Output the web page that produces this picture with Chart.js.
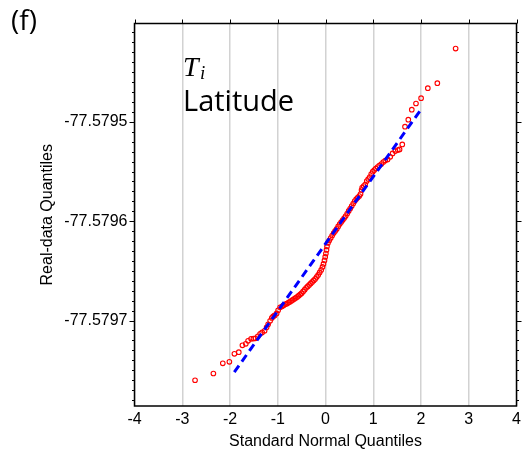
<!DOCTYPE html>
<html>
<head>
<meta charset="utf-8">
<script src="https://cdn.jsdelivr.net/npm/chart.js@4.4.1/dist/chart.umd.min.js"></script>
<style>
  html, body { margin: 0; padding: 0; background: #fff; }
  #wrap { width: 528px; height: 451px; }
</style>
</head>
<body>
<div id="wrap"><canvas id="chart" width="528" height="451"></canvas></div>
<script>
// Q-Q plot: sample quantiles of latitude against standard normal quantiles

// theoretical (standard normal) quantiles
const normQ = [
  -2.732, -2.348, -2.151, -2.013, -1.908, -1.816, -1.740, -1.669, -1.621, -1.558,
  -1.509, -1.468, -1.417, -1.369, -1.327, -1.275, -1.233, -1.201, -1.159, -1.124,
  -1.096, -1.065, -1.023, -0.992, -0.950, -0.908, -0.876, -0.845, -0.813, -0.782,
  -0.751, -0.719, -0.688, -0.656, -0.625, -0.593, -0.562, -0.530, -0.499, -0.468,
  -0.436, -0.405, -0.373, -0.342, -0.310, -0.279, -0.247, -0.216, -0.184, -0.153,
  -0.122, -0.090, -0.063, -0.042, -0.021, -0.006, 0.008, 0.021, 0.031, 0.052,
  0.078, 0.109, 0.140, 0.172, 0.203, 0.235, 0.266, 0.298, 0.329, 0.361,
  0.392, 0.423, 0.455, 0.486, 0.518, 0.549, 0.581, 0.612, 0.644, 0.675,
  0.707, 0.734, 0.755, 0.769, 0.801, 0.832, 0.864, 0.895, 0.927, 0.958,
  0.990, 1.021, 1.052, 1.090, 1.126, 1.168, 1.210, 1.252, 1.300, 1.356,
  1.405, 1.461, 1.514, 1.551, 1.608, 1.665, 1.734, 1.807, 1.895, 2.002,
  2.143, 2.342, 2.725
];

// observed latitude quantiles (sorted)
const latQ = [
  -77.5797601, -77.5797533, -77.5797430, -77.5797415, -77.5797335, -77.5797318, -77.5797249, -77.5797234, -77.5797204, -77.5797184,
  -77.5797181, -77.5797179, -77.5797159, -77.5797134, -77.5797119, -77.5797103, -77.5797068, -77.5797038, -77.5797003, -77.5796973,
  -77.5796958, -77.5796948, -77.5796928, -77.5796897, -77.5796867, -77.5796857, -77.5796847, -77.5796837, -77.5796830, -77.5796822,
  -77.5796812, -77.5796802, -77.5796792, -77.5796782, -77.5796772, -77.5796762, -77.5796750, -77.5796737, -77.5796724, -77.5796707,
  -77.5796689, -77.5796671, -77.5796656, -77.5796641, -77.5796626, -77.5796611, -77.5796596, -77.5796581, -77.5796561, -77.5796541,
  -77.5796516, -77.5796490, -77.5796460, -77.5796430, -77.5796395, -77.5796360, -77.5796325, -77.5796289, -77.5796254, -77.5796219,
  -77.5796194, -77.5796169, -77.5796144, -77.5796119, -77.5796098, -77.5796078, -77.5796053, -77.5796028, -77.5796008, -77.5795988,
  -77.5795968, -77.5795948, -77.5795923, -77.5795897, -77.5795872, -77.5795847, -77.5795822, -77.5795797, -77.5795777, -77.5795762,
  -77.5795747, -77.5795727, -77.5795686, -77.5795661, -77.5795646, -77.5795631, -77.5795596, -77.5795576, -77.5795556, -77.5795526,
  -77.5795501, -77.5795485, -77.5795470, -77.5795455, -77.5795440, -77.5795425, -77.5795405, -77.5795390, -77.5795378, -77.5795352,
  -77.5795318, -77.5795294, -77.5795284, -77.5795277, -77.5795227, -77.5795048, -77.5794978, -77.5794877, -77.5794815, -77.5794762,
  -77.5794661, -77.5794611, -77.5794262
];

// reference line through the quartiles
const fitX = [-1.91, 2.0];
const fitY = [-77.5797519, -77.5794875];

// axes
const xTicks = [-4, -3, -2, -1, 0, 1, 2, 3, 4];
const yMajor = [-77.5797, -77.5796, -77.5795];
const yMin = -77.579786, yMax = -77.579401;

const pts = normQ.map((x, i) => ({ x: x, y: latQ[i] }));
const fitPts = fitX.map((x, i) => ({ x: x, y: fitY[i] }));

const isMajor = v => yMajor.some(m => Math.abs(m - v) < 1e-9);

// frame, tick marks and panel text
const decor = {
  id: 'decor',
  afterDraw(chart) {
    const c = chart.ctx, a = chart.chartArea;
    const ys = chart.scales.y, xs = chart.scales.x;
    c.save();
    c.strokeStyle = '#000';
    c.lineWidth = 1.5;
    c.strokeRect(a.left, a.top, a.right - a.left, a.bottom - a.top);
    c.lineWidth = 1;
    c.beginPath();
    ys.ticks.forEach(t => {
      const p = Math.round(ys.getPixelForValue(t.value)) + 0.5;
      const len = isMajor(t.value) ? 5 : 2.5;
      c.moveTo(a.left, p); c.lineTo(a.left - len, p);
      c.moveTo(a.right, p); c.lineTo(a.right + len, p);
    });
    xs.ticks.forEach(t => {
      const p = Math.round(xs.getPixelForValue(t.value)) + 0.5;
      c.moveTo(p, a.top); c.lineTo(p, a.top - 4);
    });
    c.stroke();

    c.fillStyle = '#000';
    c.textBaseline = 'alphabetic';
    c.font = "28px 'Open Sans'";
    c.fillText('(f)', 11, 30);
    c.font = "italic 28px 'Liberation Serif'";
    c.fillText('T', 183, 76);
    c.font = "italic 19px 'Liberation Serif'";
    c.fillText('i', 200, 79);
    c.font = "29px 'Open Sans'";
    c.fillText('Latitude', 183, 111);
    c.restore();
  }
};

const ctx = document.getElementById('chart').getContext('2d');

new Chart(ctx, {
  type: 'scatter',
  data: {
    datasets: [
      {
        label: 'fit',
        data: fitPts,
        showLine: true,
        borderColor: '#0000ff',
        borderWidth: 3,
        borderDash: [8, 5],
        pointRadius: 0,
        fill: false
      },
      {
        label: 'latitude',
        data: pts,
        pointStyle: 'circle',
        pointRadius: 2.3,
        borderWidth: 1.1,
        borderColor: '#ff0000',
        backgroundColor: 'rgba(0,0,0,0)'
      }
    ]
  },
  options: {
    responsive: false,
    animation: false,
    layout: { padding: { left: 38, right: 11.5, top: 23.5, bottom: 0 } },
    plugins: { legend: { display: false }, tooltip: { enabled: false } },
    scales: {
      x: {
        type: 'linear',
        min: -4,
        max: 4,
        afterBuildTicks: s => { s.ticks = xTicks.map(v => ({ value: v })); },
        afterFit: s => { s.height = 45; },
        grid: { color: '#d2d2d2', lineWidth: 1.5, drawTicks: false },
        border: { display: false },
        ticks: {
          padding: 4,
          color: '#000',
          font: { family: "'Liberation Sans', Arial", size: 16 },
          callback: v => String(v)
        },
        title: {
          display: true,
          text: 'Standard Normal Quantiles',
          color: '#000',
          padding: 0,
          font: { family: "'Liberation Sans', Arial", size: 16 }
        }
      },
      y: {
        type: 'linear',
        min: yMin,
        max: yMax,
        afterBuildTicks: s => {
          const t = [];
          for (let k = -7757978; k <= -7757941; k++) t.push({ value: k / 100000 });
          s.ticks = t;
        },
        afterFit: s => { s.width = 96.5; },
        grid: { display: false, drawTicks: false },
        border: { display: false },
        ticks: {
          autoSkip: false,
          padding: 7,
          color: '#000',
          font: { family: "'Liberation Sans', Arial", size: 16 },
          callback: v => isMajor(v) ? v.toFixed(4) : ''
        },
        title: {
          display: true,
          text: 'Real-data Quantiles',
          color: '#000',
          padding: 0,
          font: { family: "'Liberation Sans', Arial", size: 16 }
        }
      }
    }
  },
  plugins: [decor]
});
</script>
</body>
</html>
